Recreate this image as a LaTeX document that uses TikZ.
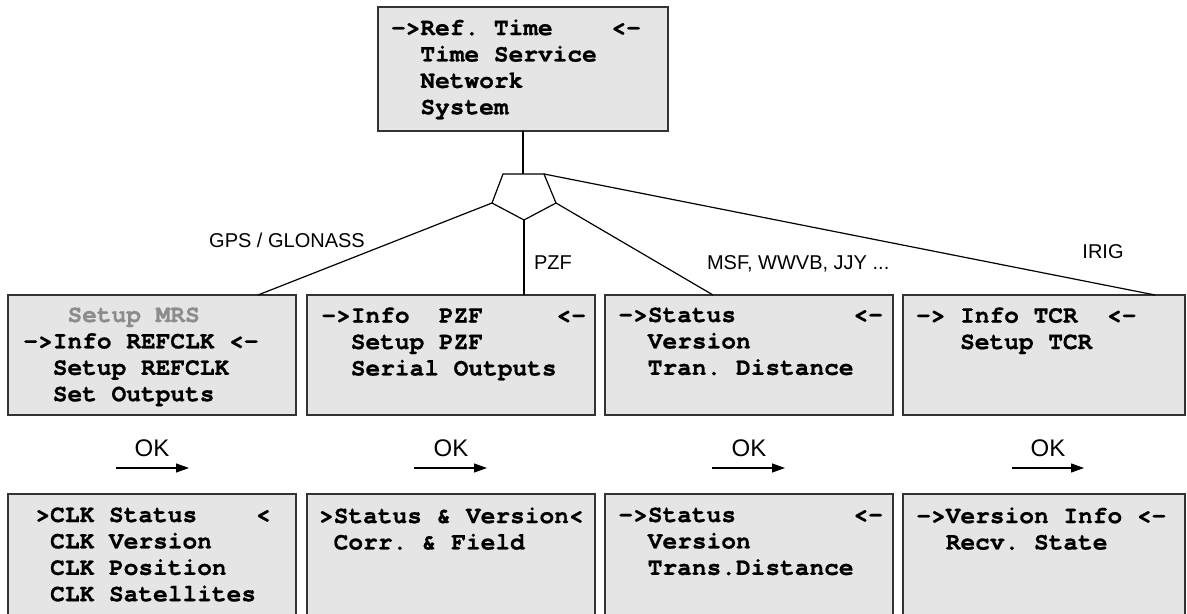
\documentclass[tikz,border=0pt]{standalone}
\usepackage{fontspec}
\setmainfont{Liberation Sans}
\newfontfamily\lcdfont{TeX Gyre Cursor}[BoldFeatures={FakeBold=0.8}]
\usetikzlibrary{positioning, arrows.meta, calc}

\definecolor{lcdgray}{gray}{0.9}
\definecolor{dimtext}{gray}{0.55}

\begin{document}
\begin{tikzpicture}[
    x=0.5pt, y=-0.5pt,
    screen/.style={
        rectangle,
        draw=black!80,
        line width=0.7pt,
        fill=lcdgray,
        anchor=north west,
        minimum width=144pt,
        minimum height=60pt,
        inner sep=0pt,
        outer sep=0pt
    },
    lcd/.style={
        font=\lcdfont\bfseries\fontsize{12.25}{13.2}\selectfont,
        align=left,
        inner sep=0pt
    },
    src_text/.style={
        font=\fontsize{10}{12}\selectfont
    },
    ok_text/.style={
        font=\fontsize{12}{14}\selectfont
    },
    link/.style={draw=black, line width=0.6pt},
    ok_arrow/.style={-{Triangle[length=6.5pt, width=4.5pt]}, line width=0.6pt}
]

    \useasboundingbox (0,0) rectangle (1187,614);
    \clip (0,0) rectangle (1187,614);

    % Main menu
    \node[screen, minimum width=145pt, minimum height=62pt] (ref) at (378,7) {};
    \node[lcd, below right=6pt and 6.3pt of ref.north west] (ref_txt)
        {->Ref.~Time~~~~<-\\~~Time~Service\\~~Network\\~~System};

    % Switch
    \coordinate (p_tl) at (503,174);
    \coordinate (p_tr) at (544,174);
    \coordinate (p_r) at (556,203);
    \coordinate (p_b) at (524,220);
    \coordinate (p_l) at (492,203);
    \draw[link] (p_tl) -- (p_tr) -- (p_r) -- (p_b) -- (p_l) -- cycle;

    % Receiver menus
    \node[screen] (gps) at (8,295) {};
    \node[screen] (pzf) at (307,295) {};
    \node[screen] (msf) at (605,295) {};
    \node[screen, minimum width=141pt] (irig) at (903,295) {};

    \node[lcd, below right=6pt and 7.5pt of gps.north west] (gps_txt)
        {\textcolor{dimtext}{~~~Setup~MRS}\\->Info~REFCLK~<-\\~~Setup~REFCLK\\~~Set~Outputs};
    \node[lcd, below right=6pt and 7pt of pzf.north west] (pzf_txt)
        {->Info~~PZF~~~~~<-\\~~Setup~PZF\\~~Serial~Outputs};
    \node[lcd, below right=6pt and 6.5pt of msf.north west] (msf_txt)
        {->Status~~~~~~~~<-\\~~Version\\~~Tran.~Distance};
    \node[lcd, below right=6pt and 6.3pt of irig.north west] (irig_txt)
        {->~Info~TCR~~<-\\~~~Setup~TCR};

    % Sources
    \node[src_text, anchor=base] (lbl_gps) at (287,248) {GPS / GLONASS};
    \node[src_text, anchor=base west] (lbl_pzf) at (527,270) {PZF};
    \node[src_text, anchor=base west] (lbl_msf) at (700,270) {MSF, WWVB, JJY ...};
    \node[src_text, anchor=base] (lbl_irig) at (1103,259) {IRIG};

    \draw[link] (ref.south) -- (ref.south |- p_tl);
    \draw[link] (p_l) -- ($(gps.north east)+(-38,0)$);
    \draw[link] (p_b) -- (p_b |- pzf.north);
    \draw[link] (p_r) -- ($(msf.north west)+(108,0)$);
    \draw[link] (p_tr) -- ($(irig.north west)+(252,0)$);

    % OK
    \node[ok_text, anchor=base] (ok1) at (152,456) {OK};
    \node[ok_text, anchor=base] (ok2) at (451,456) {OK};
    \node[ok_text, anchor=base] (ok3) at (749,456) {OK};
    \node[ok_text, anchor=base] (ok4) at (1048,456) {OK};
    \coordinate (ok1_from) at (116,468);
    \coordinate (ok1_to) at (189,468);
    \coordinate (ok2_from) at (414,468);
    \coordinate (ok2_to) at (487,468);
    \coordinate (ok3_from) at (712,468);
    \coordinate (ok3_to) at (785,468);
    \coordinate (ok4_from) at (1012,468);
    \coordinate (ok4_to) at (1084,468);
    \draw[ok_arrow] (ok1_from) -- (ok1_to);
    \draw[ok_arrow] (ok2_from) -- (ok2_to);
    \draw[ok_arrow] (ok3_from) -- (ok3_to);
    \draw[ok_arrow] (ok4_from) -- (ok4_to);

    % Info menus
    \node[screen, minimum height=70pt] (gps_info) at (8,494) {};
    \node[screen, minimum height=70pt] (pzf_info) at (307,494) {};
    \node[screen, minimum height=70pt] (msf_info) at (605,494) {};
    \node[screen, minimum width=141pt, minimum height=70pt] (irig_info) at (903,494) {};

    \node[lcd, below right=6.5pt and 6.2pt of gps_info.north west] (gps_info_txt)
        {~>CLK~Status~~~~<\\~~CLK~Version\\~~CLK~Position\\~~CLK~Satellites};
    \node[lcd, below right=6.5pt and 5.8pt of pzf_info.north west] (pzf_info_txt)
        {>Status~\&~Version<\\~Corr.~\&~Field};
    \node[lcd, below right=6.5pt and 6.5pt of msf_info.north west] (msf_info_txt)
        {->Status~~~~~~~~<-\\~~Version\\~~Trans.Distance};
    \node[lcd, below right=6.5pt and 6.5pt of irig_info.north west] (irig_info_txt)
        {->Version~Info~<-\\~~Recv.~State};

\end{tikzpicture}
\end{document}
